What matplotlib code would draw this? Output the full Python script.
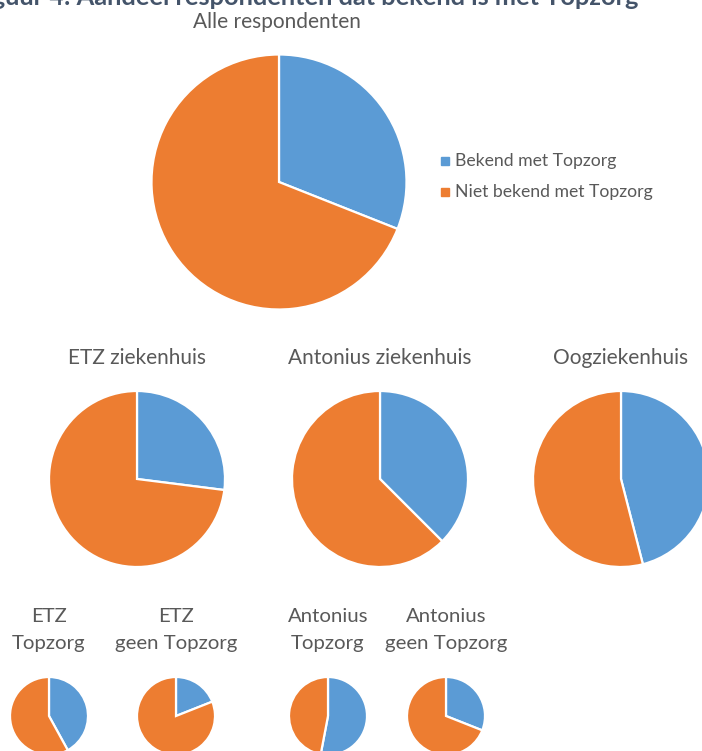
import matplotlib.pyplot as plt

plt.rcParams['font.family'] = ['Lato', 'DejaVu Sans']

W, H = 702, 751

labels = ["Bekend met Topzorg", "Niet bekend met Topzorg"]
colors = ["#5B9BD5", "#ED7D31"]

main_title = "Alle respondenten"
main_share = 31

hospital_titles = ["ETZ ziekenhuis", "Antonius ziekenhuis", "Oogziekenhuis"]
hospital_share = [27, 37.5, 46]

group_titles = [["ETZ", "Topzorg"], ["ETZ", "geen Topzorg"],
                ["Antonius", "Topzorg"], ["Antonius", "geen Topzorg"]]
group_share = [42, 19, 53, 31]

text_color = "#595959"

fig = plt.figure(figsize=(W / 100, H / 100), dpi=100)


def draw_pie(cx, cy, r, share):
    # cx, cy, r in pixels, y measured from the top
    ax = fig.add_axes([(cx - r) / W, 1 - (cy + r) / H, 2 * r / W, 2 * r / H])
    ax.pie([share, 100 - share], colors=colors, startangle=90, counterclock=False,
           radius=1, wedgeprops=dict(edgecolor="white", linewidth=1.6))
    ax.set_xlim(-1, 1)
    ax.set_ylim(-1, 1)
    ax.set_aspect("auto")
    for p in ax.patches:
        p.set_clip_on(False)
    return ax


def put_text(x, y, s, **kw):
    fig.text(x / W, 1 - y / H, s, color=text_color, ha="center", va="center", **kw)


# figure caption, cut off at the top of the image like in the source
fig.text(638 / W, 1 - 5 / H, "Figuur 4: Aandeel respondenten dat bekend is met Topzorg",
         ha="right", va="baseline", fontsize=18.3, fontweight="bold", color="#44546A")

# overall pie
draw_pie(279, 182, 127.5, main_share)
put_text(277, 22, main_title, fontsize=15)

# legend
for i, lab in enumerate(labels):
    y = 161 + i * 31
    fig.patches.append(plt.Rectangle((441 / W, 1 - (y + 4) / H), 8 / W, 8 / H,
                                     transform=fig.transFigure, color=colors[i]))
    fig.text(455 / W, 1 - y / H, lab, color=text_color, ha="left", va="center", fontsize=12.7)

# hospitals
hosp_x = [137, 380, 621]
for x, share, t in zip(hosp_x, hospital_share, hospital_titles):
    draw_pie(x, 479, 88, share)
    put_text(x, 358, t, fontsize=15)

# groups
group_x = [49, 176, 328, 446]
for x, share, t in zip(group_x, group_share, group_titles):
    draw_pie(x, 716, 39, share)
    put_text(x, 617, t[0], fontsize=14.7)
    put_text(x, 644, t[1], fontsize=14.7)

fig.savefig("out.png", dpi=100, facecolor="white")
